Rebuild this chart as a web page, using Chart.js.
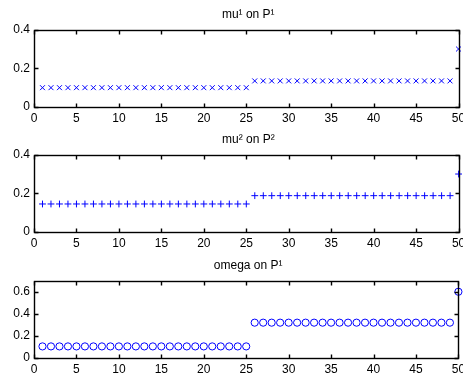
<!DOCTYPE html>
<html><head><meta charset="utf-8">
<script src="https://cdn.jsdelivr.net/npm/chart.js@4"></script>
<style>
html,body{margin:0;padding:0;background:#fff;width:463px;height:377px;overflow:hidden}
.p{position:absolute;left:0}
canvas{display:block}
</style></head><body>
<div class="p" style="top:0px"><canvas id="c1" width="463" height="125"></canvas></div>
<div class="p" style="top:125px"><canvas id="c2" width="463" height="126"></canvas></div>
<div class="p" style="top:251px"><canvas id="c3" width="463" height="126"></canvas></div>
<script>
const xIndex = [1,2,3,4,5,6,7,8,9,10,11,12,13,14,15,16,17,18,19,20,21,22,23,24,25,
  26,27,28,29,30,31,32,33,34,35,36,37,38,39,40,41,42,43,44,45,46,47,48,49,50];
const mu1 = [0.1,0.1,0.1,0.1,0.1,0.1,0.1,0.1,0.1,0.1,0.1,0.1,0.1,0.1,0.1,0.1,0.1,0.1,0.1,0.1,0.1,0.1,0.1,0.1,0.1,
  0.135,0.135,0.135,0.135,0.135,0.135,0.135,0.135,0.135,0.135,0.135,0.135,0.135,0.135,0.135,0.135,0.135,0.135,0.135,0.135,0.135,0.135,0.135,0.135,
  0.3];
const mu2 = [0.145,0.145,0.145,0.145,0.145,0.145,0.145,0.145,0.145,0.145,0.145,0.145,0.145,0.145,0.145,0.145,0.145,0.145,0.145,0.145,0.145,0.145,0.145,0.145,0.145,
  0.188,0.188,0.188,0.188,0.188,0.188,0.188,0.188,0.188,0.188,0.188,0.188,0.188,0.188,0.188,0.188,0.188,0.188,0.188,0.188,0.188,0.188,0.188,0.188,
  0.3];
const omega = [0.105,0.105,0.105,0.105,0.105,0.105,0.105,0.105,0.105,0.105,0.105,0.105,0.105,0.105,0.105,0.105,0.105,0.105,0.105,0.105,0.105,0.105,0.105,0.105,0.105,
  0.32,0.32,0.32,0.32,0.32,0.32,0.32,0.32,0.32,0.32,0.32,0.32,0.32,0.32,0.32,0.32,0.32,0.32,0.32,0.32,0.32,0.32,0.32,0.32,
  0.6];
const titles = ['mu\u00B9 on P\u00B9', 'mu\u00B2 on P\u00B2', 'omega on P\u00B9'];
const xTicks = [0,5,10,15,20,25,30,35,40,45,50];
const xTickLabels = ['0','5','10','15','20','25','30','35','40','45','50'];
const yTicks12 = [0,0.2,0.4];
const yTickLabels12 = ['0','0.2','0.4'];
const yTicks3 = [0,0.2,0.4,0.6];
const yTickLabels3 = ['0','0.2','0.4','0.6'];

const FONT = {family:'"Liberation Sans", Arial, sans-serif', size:12};

const frame = {
  id:'frame',
  afterLayout(chart){
    const t = chart.titleBlock, a = chart.chartArea;
    if (t && a) { t.left = a.left; t.right = a.right + 4; t.width = t.right - t.left; }
  },
  afterDatasetsDraw(chart){
    const {ctx, chartArea:a, scales:{x,y}} = chart;
    ctx.save();
    ctx.strokeStyle = '#000';
    ctx.lineWidth = 1.4;
    const L = Math.round(a.left)+0.5, R = Math.round(a.right)+0.5,
          T = Math.round(a.top)+0.5, B = Math.round(a.bottom)+0.5;
    ctx.strokeRect(L, T, R-L, B-T);
    ctx.beginPath();
    x.ticks.forEach((t,i)=>{
      const px = Math.round(x.getPixelForTick(i))+0.5;
      ctx.moveTo(px,B); ctx.lineTo(px,B-4);
      ctx.moveTo(px,T); ctx.lineTo(px,T+4);
    });
    y.ticks.forEach((t,i)=>{
      const py = Math.round(y.getPixelForTick(i))+0.5;
      ctx.moveTo(L,py); ctx.lineTo(L+4,py);
      ctx.moveTo(R,py); ctx.lineTo(R-4,py);
    });
    ctx.stroke();
    ctx.restore();
  }
};

function panel(id, title, values, style, yMax, yTicks, yLabels, padBottom){
  const pts = xIndex.map((v,i)=>({x:v, y:values[i]}));
  new Chart(document.getElementById(id), {
    type:'scatter',
    data:{datasets:[{
      data:pts,
      pointStyle:style,
      pointRadius: style==='crossRot' ? 3.5 : (style==='cross' ? 3.4 : 3.6),
      pointHoverRadius:0,
      pointBorderColor:'#0000ff',
      pointBackgroundColor: style==='circle' ? 'rgba(0,0,0,0)' : '#0000ff',
      pointBorderWidth:1,
      showLine:false,
      clip:false
    }]},
    options:{
      responsive:false,
      animation:false,
      events:[],
      layout:{padding:{left:0,right:2.5,top:0,bottom:padBottom}},
      plugins:{
        legend:{display:false},
        tooltip:{enabled:false},
        title:{display:true, text:title, color:'#000',
          font:{family:FONT.family, size:12, weight:'normal', lineHeight:1.2},
          padding:{top:7.4,bottom:7.9}}
      },
      scales:{
        x:{type:'linear', min:0, max:50,
          afterBuildTicks(s){ s.ticks = xTicks.map(v=>({value:v})); },
          afterFit(s){ s.height = 18; s.paddingLeft = 0; s.paddingRight = 0; },
          grid:{display:false, drawTicks:false},
          border:{display:false},
          ticks:{color:'#000', font:FONT, padding:4, maxRotation:0, autoSkip:false,
            callback:(v)=>{ const k = xTicks.indexOf(v); return k>=0 ? xTickLabels[k] : ''; }}
        },
        y:{type:'linear', min:0, max:yMax,
          afterBuildTicks(s){ s.ticks = yTicks.map(v=>({value:v})); },
          afterFit(s){ s.width = 34; s.paddingTop = 0; s.paddingBottom = 0; },
          grid:{display:false, drawTicks:false},
          border:{display:false},
          ticks:{color:'#000', font:FONT, padding:4, autoSkip:false,
            callback:(v)=>{ const k = yTicks.indexOf(v); return k>=0 ? yLabels[k] : ''; }}
        }
      }
    },
    plugins:[frame]
  });
}

panel('c1', titles[0], mu1, 'crossRot', 0.4, yTicks12, yTickLabels12, 0);
panel('c2', titles[1], mu2, 'cross', 0.4, yTicks12, yTickLabels12, 1);
panel('c3', titles[2], omega, 'circle', 0.7, yTicks3, yTickLabels3, 1);
</script>
</body></html>
